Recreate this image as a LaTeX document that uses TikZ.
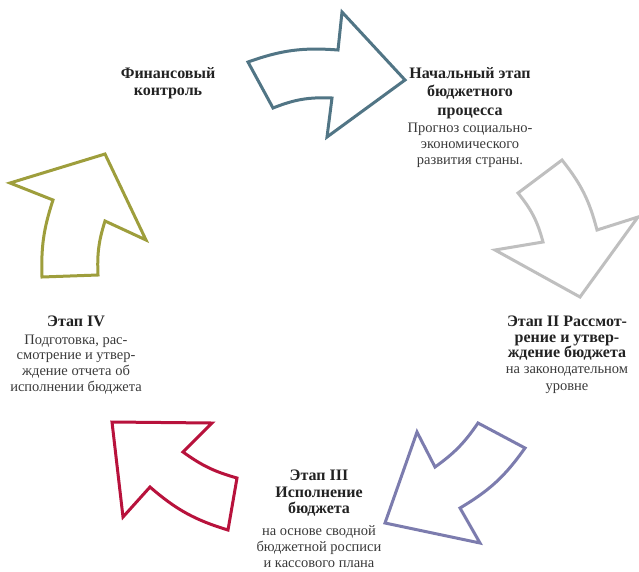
\documentclass[tikz,border=0pt]{standalone}
\usepackage{fontspec}
\setmainfont{Liberation Serif}
\definecolor{cblue}{HTML}{517585}
\definecolor{cgray}{HTML}{BFBFBF}
\definecolor{cpurple}{HTML}{7C7CAE}
\definecolor{ccrimson}{HTML}{B8123C}
\definecolor{colive}{HTML}{9E9E3C}
\definecolor{ctitle}{HTML}{222222}
\definecolor{cdesc}{HTML}{3A3A3A}
\begin{document}
\begin{tikzpicture}[x=1pt,y=-1pt,
  arrowshape/.style={line width=3pt, line join=miter, fill=white},
  title/.style={font=\bfseries\fontsize{16}{#1}\selectfont, text=ctitle, align=center, inner sep=0pt, anchor=north},
  title/.default=17,
  desc/.style={font=\fontsize{14.5}{#1}\selectfont, text=cdesc, align=center, inner sep=0pt, anchor=north},
  desc/.default=16]
\useasboundingbox (0,0) rectangle (639,571);
% arrows
\draw[arrowshape, draw=cblue] (342,12) -- (405,80) -- (327,137) -- (332,98) to[bend right=12] (273,108) -- (248,62) to[bend left=12] (338,50) -- cycle;
\draw[arrowshape, draw=cgray] (638,217) -- (580,297) -- (495,250) -- (543,242) to[bend right=12] (518,193) -- (562,160) to[bend left=12] (597,230) -- cycle;
\draw[arrowshape, draw=cpurple] (385,523) -- (417,432) -- (435,467) to[bend right=10] (478,423) -- (525,448) to[bend left=12] (460,508) -- (480,543) -- cycle;
\draw[arrowshape, draw=ccrimson] (112,422) -- (212,423) -- (183,452) to[bend right=10] (237,478) -- (228,530) to[bend left=12] (150,487) -- (123,517) -- cycle;
\draw[arrowshape, draw=colive] (105,154) -- (146,240) -- (105,221) to[bend right=10] (98,275) -- (42,277) to[bend left=10] (53,200) -- (10,183) -- cycle;
% texts
\node[title=17] (t0) at (168,67) {Финансовый\\контроль};
\node[title=18.5] (t1) at (470,67) {Начальный этап\\бюджетного\\процесса};
\node[desc=16] (d1) at (470,122.5) {Прогноз социально-\\экономического\\развития страны.};
\node[title=15.5] (t2) at (567,316) {Этап II Рассмот-\\рение и утвер-\\ждение бюджета};
\node[desc=17] (d2) at (567,366) {на законодательном\\уровне};
\node[title=16.5] (t3) at (319,470) {Этап III\\Исполнение\\бюджета};
\node[desc=16] (d3) at (319,525.5) {на основе сводной\\бюджетной росписи\\и кассового плана};
\node[title] (t4) at (76,316) {Этап IV};
\node[desc=15.7] (d4) at (76,334.5) {Подготовка, рас-\\смотрение и утвер-\\ждение отчета об\\исполнении бюджета};
\end{tikzpicture}
\end{document}
